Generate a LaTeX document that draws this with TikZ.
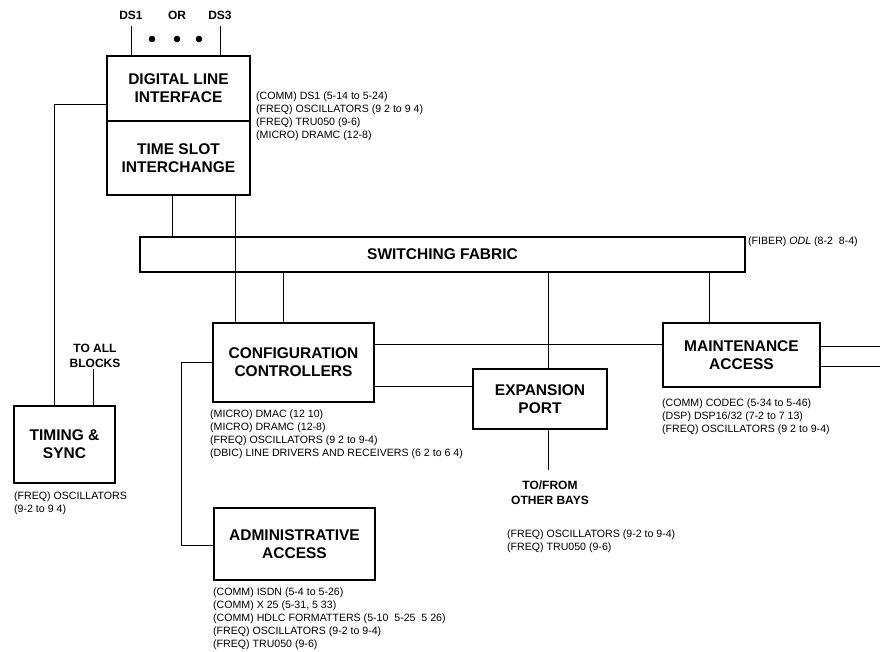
\documentclass[tikz,border=0pt]{standalone}
\usepackage{fontspec}
\setmainfont{Liberation Sans}
\begin{document}
\begin{tikzpicture}[x=1pt,y=-1pt,
  box/.style={draw,line width=1.5pt,inner sep=0pt,align=center,font=\bfseries\fontsize{15.5}{18}\selectfont},
  wire/.style={line width=0.9pt},
  note/.style={anchor=north west,inner sep=0pt,align=left,font=\fontsize{10.6}{13}\selectfont},
  lbl/.style={inner sep=0pt,align=center,font=\bfseries\fontsize{12}{15}\selectfont},
  dot/.style={circle,fill,inner sep=0pt,minimum size=6.6pt}]
\useasboundingbox (0,0) rectangle (880,652);

% boxes
\node[box,minimum width=143pt,minimum height=65pt] (dli) at (178.5,88.5) {DIGITAL LINE\\INTERFACE};
\node[box,minimum width=143pt,minimum height=74pt] (tsi) at (178.5,158) {TIME SLOT\\INTERCHANGE};
\node[box,minimum width=101pt,minimum height=77pt] (tim) at (64.5,444.5) {TIMING \&\\SYNC};
\node[box,minimum width=605pt,minimum height=35pt] (fab) at (442.5,254.5) {SWITCHING FABRIC};
\node[box,minimum width=161pt,minimum height=79pt] (cfg) at (293.5,362.5) {CONFIGURATION\\CONTROLLERS};
\node[box,minimum width=134pt,minimum height=60pt] (exp) at (540,399) {EXPANSION\\PORT};
\node[box,minimum width=157pt,minimum height=64pt] (mnt) at (741.5,355) {MAINTENANCE\\ACCESS};
\node[box,minimum width=161pt,minimum height=72pt] (adm) at (294.5,544) {ADMINISTRATIVE\\ACCESS};

% labels
\node[lbl] (ds1) at (131,15) {DS1};
\node[lbl] (or) at (177,15) {OR};
\node[lbl] (ds3) at (220,15) {DS3};
\node[dot] (d1) at (152,39) {};
\node[dot] (d2) at (177,39) {};
\node[dot] (d3) at (199,39) {};
\node[lbl] (toall) at (95,355.5) {TO ALL\\BLOCKS};
\node[lbl] (tofrom) at (550,492.5) {TO/FROM\\OTHER BAYS};

% connectors
\draw[wire,shorten <=7pt] (ds1.south) -- (ds1.south |- dli.north);
\draw[wire,shorten <=7pt] (ds3.south) -- (ds3.south |- dli.north);
\draw[wire] (dli.west |- 0,104) -- (54,104) -- (tim.north -| 54,0);
\draw[wire,shorten <=2pt] (toall.south -| 93,0) -- (tim.north -| 93,0);
\draw[wire] (tsi.south -| 172,0) -- (fab.north -| 172,0);
\draw[wire] (tsi.south -| 235,0) -- (cfg.north -| 235,0);
\draw[wire] (fab.south -| 283,0) -- (cfg.north -| 283,0);
\draw[wire] (fab.south -| 548,0) -- (exp.north -| 548,0);
\draw[wire] (fab.south -| 709,0) -- (mnt.north -| 709,0);
\draw[wire] (cfg.east |- 0,344) -- (mnt.west |- 0,344);
\draw[wire] (cfg.east |- 0,386) -- (exp.west |- 0,386);
\coordinate (out1) at (880,346);
\coordinate (out2) at (880,366);
\draw[wire] (mnt.east |- out1) -- (out1);
\draw[wire] (mnt.east |- out2) -- (out2);
\draw[wire,shorten >=10pt] (exp.south -| 548,0) -- (tofrom.north -| 548,0);
\draw[wire] (cfg.west |- 0,362) -- (181,362) -- (181,545) -- (adm.west |- 0,545);

% notes
\node[note] (ndli) at (256,91.3) {(COMM) DS1 (5-14 to 5-24)\\(FREQ) OSCILLATORS (9 2 to 9 4)\\(FREQ) TRU050 (9-6)\\(MICRO) DRAMC (12-8)};
\node[note] (nfab) at (748,236.3) {(FIBER) \textit{ODL} (8-2\ \ 8-4)};
\node[note] (ncfg) at (210,409.3) {(MICRO) DMAC (12 10)\\(MICRO) DRAMC (12-8)\\(FREQ) OSCILLATORS (9 2 to 9-4)\\(DBIC) LINE DRIVERS AND RECEIVERS (6 2 to 6 4)};
\node[note] (ntim) at (14,491.3) {(FREQ) OSCILLATORS\\(9-2 to 9 4)};
\node[note] (nmnt) at (662,398.3) {(COMM) CODEC (5-34 to 5-46)\\(DSP) DSP16/32 (7-2 to 7 13)\\(FREQ) OSCILLATORS (9 2 to 9-4)};
\node[note] (nexp) at (507,529.3) {(FREQ) OSCILLATORS (9-2 to 9-4)\\(FREQ) TRU050 (9-6)};
\node[note] (nadm) at (213,587.3) {(COMM) ISDN (5-4 to 5-26)\\(COMM) X 25 (5-31, 5 33)\\(COMM) HDLC FORMATTERS (5-10\ \ 5-25\ \ 5 26)\\(FREQ) OSCILLATORS (9-2 to 9-4)\\(FREQ) TRU050 (9-6)};
\end{tikzpicture}
\end{document}
